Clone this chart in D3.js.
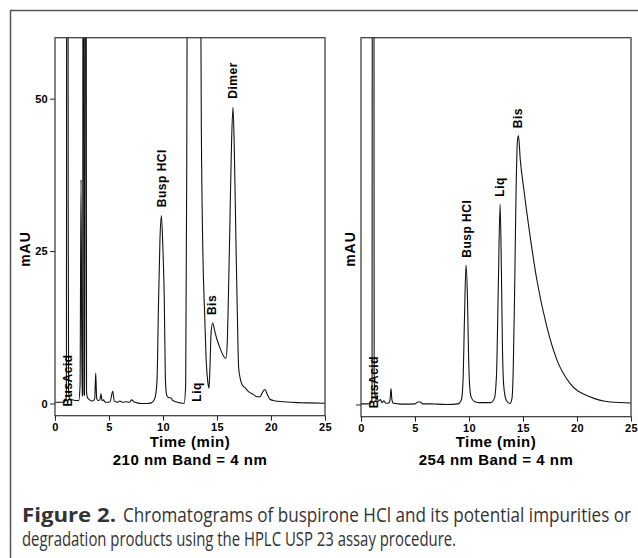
<!DOCTYPE html>
<html>
<head>
<meta charset="utf-8">
<script src="https://cdn.jsdelivr.net/npm/d3@7"></script>
<style>
  body { margin: 0; background: #fff; }
  svg { display: block; }
  .axis text { font-family: "Liberation Sans", Arial, sans-serif; font-weight: bold; font-size: 11px; letter-spacing: 0.3px; fill: #000; }
  .axis line { stroke: #222; }
  .axis path { display: none; }
  .peak { font-family: "Liberation Sans", Arial, sans-serif; font-weight: bold; font-size: 12px; letter-spacing: 0.5px; fill: #000; }
  .title { font-family: "Liberation Sans", Arial, sans-serif; font-weight: bold; font-size: 15px; letter-spacing: 0.5px; fill: #000; }
  .caption { font-family: "Liberation Sans Narrow", "Open Sans", sans-serif; font-size: 16px; fill: #333; }
</style>
</head>
<body>
<svg id="chart" width="638" height="558"></svg>
<script>
// time (min) and absorbance (mAU)
var timeTicks = [0, 5, 10, 15, 20, 25];
var mauTicks = [0, 25, 50];

var trace210 = [
  [0, 0.2], [0.5, 0.2], [0.9, 0.3], [1.05, 1], [1.12, 200], [1.18, 200], [1.22, 33], [1.26, 2],
  [1.35, 0.8], [1.6, 0.6], [1.9, 0.5], [2.2, 0.5], [2.32, 3], [2.41, 36.7], [2.5, 1.2],
  [2.56, 1.5], [2.62, 200], [2.7, 1.5], [2.77, 1.3], [2.84, 200], [2.92, 2], [3.0, 1],
  [3.2, 0.6], [3.5, 0.4], [3.68, 0.8], [3.77, 5], [3.86, 0.8], [4.0, 0.5], [4.15, 0.6],
  [4.26, 1.6], [4.35, 0.5], [4.5, 0.6], [4.6, 0.3], [4.8, 0.2], [5.1, 0.3], [5.34, 2],
  [5.5, 0.4], [5.8, 0.2], [6.0, 0.4], [6.3, 0.2], [6.6, 0.3], [6.9, 0.2], [7.1, 0.6],
  [7.3, 0.3], [7.6, 0.1], [8.0, 0], [8.5, 0], [8.9, 0.1], [9.15, 0.5], [9.3, 1.2],
  [9.45, 4], [9.57, 15], [9.72, 27], [9.85, 30.8], [9.98, 26], [10.12, 17], [10.22, 4],
  [10.35, 1.3], [10.5, 1.0], [10.75, 0.9], [10.9, 0.5], [11.2, 0.3], [11.6, 0.1],
  [11.95, 0], [12.1, 3], [12.2, 40], [12.35, 150], [12.8, 300], [13.3, 150], [13.55, 45],
  [13.7, 24], [13.85, 15], [14.0, 7], [14.15, 3.5], [14.26, 2.5], [14.35, 6], [14.45, 11.5],
  [14.6, 13.2], [14.8, 11.8], [15.0, 10.5], [15.3, 9], [15.6, 7.8], [15.83, 7.4],
  [15.95, 10], [16.05, 17], [16.2, 30], [16.35, 43], [16.48, 48.6], [16.6, 42],
  [16.75, 27], [16.88, 15], [17.0, 6], [17.13, 4.3], [17.35, 3], [17.6, 2.6],
  [17.95, 1.9], [18.36, 1.5], [18.7, 1.1], [18.98, 1.1], [19.2, 1.8], [19.44, 2.3],
  [19.65, 1.5], [19.9, 0.7], [20.2, 0.5], [21.45, 0.25], [22.5, 0.15], [23.5, 0.1], [25, 0.05]
];

var trace254 = [
  [0, 0.1], [0.5, 0.1], [0.9, 0.2], [1.02, 1], [1.08, 200], [1.16, 200], [1.22, 5],
  [1.3, 1.5], [1.4, 0.8], [1.5, 1.2], [1.6, 0.5], [1.8, 0.8], [1.95, 0.3], [2.1, 0.6],
  [2.3, 0.2], [2.6, 0.3], [2.7, 1], [2.78, 2.6], [2.86, 0.8], [3.0, 0.2], [3.5, 0.1],
  [4.0, 0.05], [5.0, 0.1], [5.3, 0.4], [5.5, 0.4], [5.7, 0.1], [6.5, 0.1], [7.0, 0.05],
  [8.0, 0], [9.0, 0.1], [9.3, 0.8], [9.45, 4], [9.58, 14], [9.72, 22.8], [9.85, 18],
  [9.96, 8], [10.06, 3], [10.2, 1.2], [10.5, 0.5], [11.0, 0.3], [12.0, 0.3], [12.35, 1],
  [12.55, 5], [12.72, 20], [12.88, 32.8], [13.0, 22], [13.1, 9], [13.22, 3], [13.45, 0.7],
  [13.8, 0.15], [13.98, 1], [14.1, 6], [14.22, 18], [14.35, 34], [14.48, 43], [14.58, 44],
  [14.75, 40], [15.04, 35.7], [15.66, 27.5], [16.28, 20.4], [17.21, 12.7], [18.14, 7.3],
  [19.37, 3.4], [21.2, 1.25], [23.1, 0.4], [25, 0.25]
];

var peaks210 = [
  { name: "BusAcid", t: 1.2, v: -0.5 },
  { name: "Busp HCl", t: 9.88, v: 32.2 },
  { name: "Liq", t: 13.15, v: 0.3 },
  { name: "Bis", t: 14.54, v: 14.5 },
  { name: "Dimer", t: 16.5, v: 50 }
];

var peaks254 = [
  { name: "BusAcid", t: 1.14, v: -0.6 },
  { name: "Busp HCl", t: 9.8, v: 24 },
  { name: "Liq", t: 12.88, v: 34 },
  { name: "Bis", t: 14.52, v: 45.2 }
];

var svg = d3.select("#chart");

svg.append("rect").attr("width", 638).attr("height", 558).attr("fill", "#fff");

// figure frame (left and top edges)
svg.append("path")
  .attr("d", "M10.5,558V10.5H638")
  .attr("fill", "none")
  .attr("stroke", "#555")
  .attr("stroke-width", 1.5);

function drawPanel(id, left, right, bottom, trace, peaks, yLabels, band) {
  var top = 37.7;
  var x = d3.scaleLinear().domain([0, 25]).range([left, right]);
  var y = d3.scaleLinear().domain([-2, 60]).range([bottom, top]);

  var g = svg.append("g");

  g.append("clipPath").attr("id", id)
    .append("rect")
    .attr("x", left).attr("y", top)
    .attr("width", right - left).attr("height", bottom - top);

  var line = d3.line()
    .x(function(d) { return x(d[0]); })
    .y(function(d) { return y(d[1]); })
    .curve(d3.curveMonotoneX);

  g.append("path")
    .datum(trace)
    .attr("clip-path", "url(#" + id + ")")
    .attr("fill", "none")
    .attr("stroke", "#111")
    .attr("stroke-width", 1.1)
    .attr("d", line);

  g.append("rect")
    .attr("x", left).attr("y", top)
    .attr("width", right - left).attr("height", bottom - top)
    .attr("fill", "none")
    .attr("stroke", "#333")
    .attr("stroke-width", 1.2);

  g.append("g")
    .attr("class", "axis")
    .attr("transform", "translate(0," + bottom + ")")
    .call(d3.axisBottom(x).tickValues(timeTicks).tickSize(5).tickSizeOuter(0).tickPadding(3));

  var yAxis = d3.axisLeft(y).tickValues(yLabels ? mauTicks : [0]).tickSize(5).tickSizeOuter(0).tickPadding(2);
  if (!yLabels) yAxis.tickFormat("");
  g.append("g")
    .attr("class", "axis")
    .attr("transform", "translate(" + left + ",0)")
    .call(yAxis);

  g.selectAll(".peak")
    .data(peaks)
    .enter()
    .append("text")
    .attr("class", "peak")
    .attr("transform", function(d) { return "translate(" + x(d.t) + "," + y(d.v) + ") rotate(-90)"; })
    .attr("dy", "0.35em")
    .text(function(d) { return d.name; });

  var mid = (left + right) / 2;
  g.append("text")
    .attr("class", "title")
    .attr("x", mid).attr("y", 447)
    .attr("text-anchor", "middle")
    .text("Time (min)");

  g.append("text")
    .attr("class", "title")
    .attr("x", mid).attr("y", 465)
    .attr("text-anchor", "middle")
    .text(band);

  g.append("text")
    .attr("class", "title")
    .attr("transform", "translate(" + (left - (yLabels ? 25 : 6)) + ",249) rotate(-90)")
    .attr("text-anchor", "middle")
    .style("font-size", "14px")
    .style("letter-spacing", "1px")
    .text("mAU");
}

drawPanel("clip210", 55, 325, 415.7, trace210, peaks210, true, "210 nm Band = 4 nm");
drawPanel("clip254", 361, 631, 416.7, trace254, peaks254, false, "254 nm Band = 4 nm");

// caption: condensed, taller glyphs via a vertical stretch
function captionLine(x, y, len, txt, bold) {
  svg.append("text")
    .attr("class", "caption")
    .attr("transform", "translate(" + x + "," + y + ") scale(1,1.2)")
    .attr("textLength", len)
    .attr("lengthAdjust", "spacingAndGlyphs")
    .style("font-weight", bold ? "bold" : null)
    .text(txt);
}

captionLine(22, 522, 94, "Figure 2.", true);
captionLine(123, 522, 508, "Chromatograms of buspirone HCl and its potential impurities or", false);
captionLine(22, 546, 434, "degradation products using the HPLC USP 23 assay procedure.", false);
</script>
</body>
</html>
